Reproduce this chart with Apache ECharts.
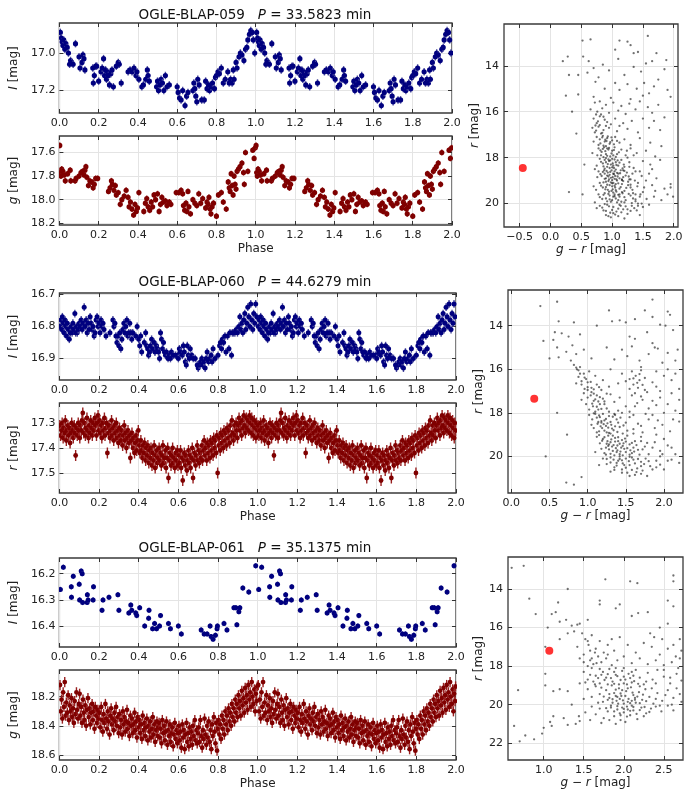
<!DOCTYPE html>
<html>
<head>
<meta charset="utf-8">
<script src="https://cdn.jsdelivr.net/npm/echarts@6/dist/echarts.min.js"></script>
<style>html,body{margin:0;padding:0;background:#fff}#main{width:693px;height:800px}</style>
</head>
<body>
<div id="main"></div>
<script>
// ---- star names / periods ----
var stars = ['OGLE-BLAP-059', 'OGLE-BLAP-060', 'OGLE-BLAP-061'];
var periods = ['33.5823', '44.6279', '35.1375'];

// ---- light curves, one cycle [phase, mag] (plotted twice, phase 0-2) ----
var lc059I = [[.005,16.89],[.010,16.92],[.014,16.94],[.018,16.96],[.022,16.93],[.028,16.98],[.033,16.95],[.040,16.97],[.046,17.00],[.052,17.06],[.057,17.04],[.063,17.05],[.070,17.06],[.082,16.95],[.100,17.02],[.105,17.08],[.115,17.05],[.120,17.01],[.125,17.03],[.130,17.09],[.170,17.08],[.173,17.16],[.178,17.12],[.185,17.07],[.190,17.07],[.200,17.15],[.212,17.10],[.218,17.08],[.225,17.03],[.230,17.12],[.235,17.09],[.240,17.14],[.245,17.10],[.250,17.12],[.255,17.17],[.262,17.11],[.268,17.09],[.275,17.18],[.290,17.07],[.300,17.05],[.305,17.06],[.315,17.16],[.350,17.10],[.360,17.09],[.370,17.10],[.380,17.08],[.390,17.12],[.395,17.10],[.405,17.14],[.420,17.18],[.428,17.17],[.440,17.14],[.448,17.09],[.452,17.12],[.458,17.15],[.495,17.18],[.500,17.15],[.505,17.20],[.512,17.17],[.518,17.14],[.525,17.16],[.532,17.20],[.540,17.12],[.548,17.18],[.560,17.17],[.600,17.18],[.605,17.21],[.612,17.24],[.620,17.25],[.628,17.20],[.640,17.28],[.648,17.23],[.655,17.21],[.680,17.20],[.685,17.16],[.690,17.19],[.695,17.23],[.700,17.26],[.705,17.14],[.712,17.17],[.725,17.25],[.738,17.25],[.745,17.15],[.752,17.19],[.760,17.17],[.765,17.20],[.772,17.18],[.780,17.16],[.790,17.19],[.795,17.13],[.800,17.12],[.808,17.10],[.815,17.11],[.825,17.08],[.835,17.16],[.845,17.14],[.858,17.10],[.865,17.16],[.872,17.14],[.880,17.16],[.886,17.09],[.890,17.14],[.900,17.05],[.905,17.08],[.915,17.02],[.922,17.00],[.930,17.01],[.940,17.04],[.948,16.98],[.955,16.97],[.960,16.93],[.968,16.90],[.975,16.88],[.982,16.89],[.988,16.93],[.995,17.00]];
var lc059g = [[.002,17.54],[.005,17.77],[.008,17.80],[.012,17.74],[.018,17.76],[.025,17.79],[.030,17.84],[.042,17.78],[.055,17.75],[.058,17.84],[.080,17.84],[.085,17.82],[.100,17.80],[.110,17.77],[.118,17.76],[.125,17.79],[.130,17.75],[.135,17.72],[.140,17.81],[.148,17.88],[.155,17.84],[.165,17.85],[.172,17.90],[.178,17.87],[.185,17.82],[.195,17.82],[.250,17.93],[.258,17.90],[.265,17.84],[.270,17.87],[.278,17.92],[.285,17.88],[.290,17.96],[.300,17.94],[.310,18.04],[.318,18.00],[.330,17.97],[.340,17.92],[.350,17.98],[.355,18.06],[.362,18.02],[.370,18.08],[.378,18.13],[.385,18.04],[.392,18.10],[.398,18.07],[.405,17.94],[.430,18.10],[.438,18.03],[.445,17.99],[.452,18.06],[.460,18.09],[.468,18.02],[.475,18.06],[.482,17.96],[.490,18.00],[.500,17.95],[.508,18.10],[.515,18.04],[.522,17.98],[.530,18.02],[.540,18.01],[.548,18.05],[.560,18.02],[.568,18.04],[.595,17.94],[.608,17.94],[.620,17.92],[.628,17.95],[.632,18.05],[.638,18.09],[.645,18.03],[.650,18.10],[.655,17.93],[.660,18.06],[.668,18.12],[.680,18.00],[.690,18.03],[.700,18.05],[.710,17.95],[.720,18.03],[.730,17.99],[.745,18.07],[.752,18.02],[.758,18.04],[.762,17.98],[.768,18.08],[.772,18.12],[.778,18.06],[.785,18.03],[.800,18.14],[.810,17.96],[.825,17.94],[.835,18.02],[.850,18.08],[.860,17.85],[.865,17.90],[.870,17.93],[.875,17.78],[.880,17.88],[.885,17.96],[.890,17.80],[.895,17.87],[.900,17.91],[.905,17.76],[.912,17.74],[.920,17.72],[.930,17.69],[.938,17.77],[.942,17.87],[.948,17.60],[.960,17.76],[.985,17.58],[.992,17.65],[.998,17.56]];
var lc060I = [[.003,16.80],[.008,16.78],[.012,16.81],[.015,16.77],[.020,16.79],[.024,16.82],[.028,16.78],[.032,16.80],[.036,16.83],[.040,16.79],[.045,16.81],[.050,16.84],[.055,16.82],[.060,16.80],[.064,16.82],[.068,16.79],[.072,16.81],[.078,16.76],[.082,16.82],[.086,16.80],[.090,16.82],[.095,16.81],[.100,16.79],[.105,16.80],[.110,16.78],[.115,16.81],[.120,16.79],[.125,16.74],[.130,16.80],[.135,16.78],[.140,16.82],[.145,16.79],[.150,16.81],[.155,16.77],[.160,16.79],[.165,16.81],[.170,16.80],[.175,16.83],[.180,16.82],[.185,16.78],[.190,16.77],[.195,16.80],[.200,16.79],[.205,16.82],[.210,16.78],[.215,16.80],[.220,16.79],[.225,16.81],[.235,16.83],[.255,16.82],[.270,16.78],[.275,16.80],[.280,16.79],[.285,16.83],[.290,16.85],[.295,16.83],[.300,16.86],[.305,16.82],[.310,16.87],[.315,16.84],[.320,16.81],[.325,16.79],[.330,16.82],[.335,16.80],[.340,16.78],[.345,16.83],[.350,16.82],[.355,16.79],[.360,16.82],[.365,16.84],[.370,16.82],[.385,16.83],[.392,16.80],[.400,16.84],[.405,16.86],[.410,16.83],[.415,16.88],[.428,16.85],[.435,16.82],[.440,16.86],[.445,16.87],[.450,16.89],[.455,16.88],[.460,16.86],[.465,16.84],[.470,16.87],[.478,16.85],[.482,16.88],[.490,16.86],[.495,16.87],[.500,16.88],[.505,16.90],[.510,16.82],[.515,16.84],[.520,16.87],[.525,16.85],[.530,16.88],[.535,16.89],[.540,16.88],[.548,16.90],[.555,16.89],[.560,16.90],[.565,16.88],[.575,16.89],[.585,16.89],[.595,16.89],[.600,16.90],[.605,16.87],[.610,16.88],[.620,16.89],[.625,16.86],[.630,16.88],[.635,16.91],[.640,16.92],[.645,16.86],[.650,16.89],[.655,16.90],[.660,16.87],[.668,16.89],[.675,16.90],[.685,16.90],[.695,16.92],[.700,16.93],[.705,16.92],[.712,16.91],[.718,16.90],[.722,16.92],[.728,16.91],[.735,16.93],[.740,16.90],[.745,16.88],[.752,16.91],[.758,16.90],[.765,16.89],[.770,16.91],[.775,16.87],[.785,16.90],[.800,16.89],[.808,16.86],[.812,16.85],[.818,16.87],[.822,16.84],[.828,16.85],[.835,16.83],[.840,16.88],[.848,16.83],[.855,16.87],[.860,16.82],[.868,16.89],[.872,16.82],[.878,16.82],[.885,16.82],[.892,16.81],[.898,16.82],[.905,16.80],[.910,16.77],[.915,16.81],[.920,16.79],[.925,16.82],[.930,16.78],[.935,16.76],[.940,16.81],[.945,16.79],[.950,16.74],[.955,16.77],[.960,16.80],[.965,16.73],[.970,16.78],[.975,16.81],[.980,16.76],[.985,16.79],[.990,16.73],[.995,16.77]];
var lc060r = [[.002,17.31],[.006,17.35],[.011,17.33],[.014,17.30],[.019,17.36],[.022,17.32],[.027,17.34],[.030,17.29],[.035,17.37],[.038,17.33],[.043,17.31],[.046,17.35],[.051,17.32],[.054,17.38],[.059,17.34],[.062,17.30],[.067,17.33],[.070,17.36],[.075,17.31],[.078,17.34],[.082,17.43],[.087,17.32],[.090,17.35],[.095,17.30],[.098,17.33],
[.103,17.36],[.106,17.31],[.111,17.33],[.114,17.29],[.118,17.26],[.123,17.34],[.126,17.30],[.131,17.35],[.134,17.32],[.139,17.28],[.142,17.33],[.147,17.36],[.150,17.31],[.155,17.34],[.158,17.29],[.163,17.32],[.166,17.35],[.171,17.30],[.174,17.33],[.179,17.28],[.182,17.31],[.187,17.35],[.190,17.30],[.195,17.27],[.198,17.33],
[.203,17.29],[.206,17.34],[.211,17.31],[.214,17.36],[.219,17.30],[.222,17.33],[.227,17.28],[.230,17.35],[.235,17.32],[.238,17.30],[.242,17.42],[.247,17.34],[.250,17.31],[.255,17.36],[.258,17.33],[.263,17.29],[.266,17.35],[.271,17.32],[.274,17.37],[.279,17.31],[.282,17.34],[.287,17.30],[.290,17.36],[.295,17.33],[.298,17.38],
[.303,17.32],[.306,17.35],[.311,17.37],[.314,17.33],[.319,17.39],[.322,17.35],[.327,17.31],[.330,17.37],[.335,17.34],[.338,17.40],[.343,17.36],[.346,17.33],[.351,17.38],[.354,17.35],[.358,17.44],[.363,17.37],[.366,17.34],[.371,17.40],[.374,17.36],[.379,17.42],[.382,17.38],[.387,17.35],[.390,17.41],[.395,17.37],[.398,17.33],
[.403,17.39],[.406,17.42],[.411,17.37],[.414,17.41],[.419,17.44],[.422,17.39],[.427,17.42],[.430,17.38],[.435,17.45],[.438,17.40],[.443,17.43],[.446,17.39],[.451,17.46],[.454,17.41],[.459,17.44],[.462,17.40],[.467,17.47],[.470,17.42],[.475,17.45],[.478,17.39],[.483,17.48],[.486,17.43],[.491,17.41],[.494,17.46],[.498,17.44],
[.503,17.40],[.506,17.45],[.511,17.42],[.514,17.47],[.519,17.43],[.522,17.39],[.527,17.46],[.530,17.44],[.535,17.41],[.538,17.48],[.543,17.44],[.546,17.40],[.550,17.52],[.555,17.45],[.558,17.42],[.563,17.47],[.566,17.43],[.571,17.40],[.574,17.46],[.579,17.44],[.582,17.48],[.587,17.42],[.590,17.45],[.595,17.41],[.598,17.47],
[.603,17.43],[.606,17.46],[.611,17.41],[.614,17.48],[.619,17.44],[.622,17.53],[.627,17.45],[.630,17.42],[.635,17.47],[.638,17.43],[.643,17.49],[.646,17.45],[.651,17.41],[.654,17.46],[.659,17.43],[.662,17.48],[.667,17.44],[.670,17.40],[.674,17.52],[.679,17.45],[.682,17.42],[.687,17.47],[.690,17.43],[.695,17.39],[.698,17.45],
[.703,17.41],[.706,17.46],[.711,17.42],[.714,17.44],[.719,17.39],[.722,17.45],[.727,17.41],[.730,17.37],[.735,17.43],[.738,17.40],[.743,17.45],[.746,17.38],[.751,17.42],[.754,17.39],[.759,17.44],[.762,17.37],[.767,17.41],[.770,17.38],[.775,17.43],[.778,17.36],[.783,17.40],[.786,17.37],[.791,17.42],[.794,17.35],[.798,17.50],
[.803,17.39],[.806,17.36],[.811,17.41],[.814,17.34],[.819,17.38],[.822,17.35],[.827,17.40],[.830,17.33],[.835,17.37],[.838,17.34],[.843,17.39],[.846,17.32],[.851,17.36],[.854,17.33],[.859,17.38],[.862,17.31],[.867,17.35],[.870,17.29],[.875,17.34],[.878,17.37],[.883,17.31],[.886,17.35],[.891,17.30],[.894,17.33],[.898,17.36],
[.903,17.31],[.906,17.28],[.911,17.33],[.914,17.30],[.919,17.35],[.922,17.29],[.927,17.32],[.930,17.27],[.935,17.31],[.938,17.34],[.943,17.28],[.946,17.32],[.951,17.29],[.954,17.33],[.959,17.27],[.962,17.30],[.967,17.34],[.970,17.28],[.975,17.31],[.978,17.35],[.983,17.29],[.986,17.32],[.991,17.36],[.994,17.30],[.998,17.33]];
var lc061I = [[.005,16.26],[.020,16.175],[.060,16.25],[.061,16.29],[.070,16.21],[.100,16.24],[.102,16.30],[.110,16.19],[.115,16.20],[.117,16.31],[.140,16.31],[.141,16.28],[.145,16.30],[.170,16.30],[.172,16.25],[.215,16.34],[.220,16.30],[.250,16.29],[.295,16.28],[.300,16.34],[.350,16.35],[.360,16.32],[.365,16.34],[.385,16.35],[.390,16.36],[.405,16.33],[.430,16.40],[.450,16.37],[.452,16.34],[.470,16.41],[.480,16.39],[.490,16.41],[.505,16.40],[.510,16.36],[.550,16.39],[.560,16.41],[.600,16.40],[.615,16.43],[.715,16.415],[.730,16.43],[.745,16.43],[.760,16.40],[.765,16.44],[.775,16.45],[.787,16.435],[.795,16.41],[.797,16.40],[.830,16.39],[.845,16.415],[.880,16.33],[.890,16.33],[.895,16.395],[.905,16.345],[.910,16.33],[.925,16.255],[.955,16.27],[.990,16.17]];
var lc061g = [[.003,18.12],[.007,18.30],[.011,18.22],[.015,18.35],[.019,18.17],[.023,18.27],[.027,18.10],[.031,18.33],[.035,18.24],[.040,18.31],[.044,18.19],[.048,18.36],[.052,18.26],[.057,18.30],[.061,18.21],[.065,18.34],[.069,18.28],[.073,18.38],[.077,18.23],[.081,18.32],[.086,18.17],[.090,18.29],[.094,18.35],[.098,18.25],
[.102,18.18],[.106,18.33],[.110,18.27],[.114,18.38],[.119,18.22],[.123,18.31],[.127,18.36],[.131,18.26],[.135,18.40],[.139,18.29],[.144,18.21],[.148,18.34],[.152,18.28],[.156,18.39],[.160,18.31],[.165,18.25],[.169,18.36],[.173,18.30],[.177,18.42],[.181,18.27],[.186,18.33],[.190,18.38],[.194,18.29],[.198,18.35],
[.202,18.31],[.206,18.41],[.211,18.27],[.215,18.36],[.219,18.44],[.223,18.32],[.227,18.38],[.232,18.25],[.236,18.35],[.240,18.42],[.244,18.30],[.248,18.37],[.253,18.46],[.257,18.33],[.261,18.28],[.265,18.39],[.269,18.35],[.274,18.43],[.278,18.31],[.282,18.37],[.286,18.27],[.290,18.40],[.295,18.34],[.299,18.45],
[.303,18.32],[.307,18.41],[.311,18.36],[.316,18.46],[.320,18.30],[.324,18.39],[.328,18.34],[.332,18.44],[.337,18.37],[.341,18.29],[.345,18.42],[.349,18.38],[.353,18.47],[.358,18.33],[.362,18.40],[.366,18.35],[.370,18.45],[.374,18.39],[.379,18.31],[.383,18.43],[.387,18.37],[.391,18.48],[.395,18.34],[.399,18.41],
[.404,18.36],[.408,18.45],[.412,18.39],[.416,18.49],[.420,18.33],[.425,18.43],[.429,18.38],[.433,18.47],[.437,18.41],[.441,18.35],[.446,18.50],[.450,18.40],[.454,18.44],[.458,18.37],[.462,18.48],[.467,18.42],[.471,18.34],[.475,18.46],[.479,18.39],[.483,18.51],[.488,18.43],[.492,18.37],[.496,18.47],[.499,18.41],
[.503,18.38],[.507,18.48],[.511,18.42],[.515,18.52],[.519,18.36],[.524,18.45],[.528,18.40],[.532,18.50],[.536,18.44],[.540,18.37],[.545,18.53],[.549,18.43],[.553,18.47],[.557,18.39],[.561,18.51],[.566,18.45],[.570,18.41],[.574,18.54],[.578,18.46],[.582,18.38],[.587,18.49],[.591,18.43],[.595,18.52],[.599,18.45],
[.603,18.40],[.607,18.50],[.611,18.44],[.615,18.55],[.620,18.39],[.624,18.48],[.628,18.43],[.632,18.56],[.636,18.46],[.641,18.38],[.645,18.51],[.649,18.45],[.653,18.54],[.657,18.41],[.662,18.49],[.666,18.44],[.670,18.53],[.674,18.40],[.678,18.47],[.683,18.36],[.687,18.50],[.691,18.43],[.695,18.52],[.699,18.45],
[.703,18.41],[.707,18.51],[.711,18.36],[.716,18.47],[.720,18.55],[.724,18.43],[.728,18.49],[.732,18.35],[.737,18.46],[.741,18.53],[.745,18.40],[.749,18.48],[.753,18.37],[.758,18.51],[.762,18.43],[.766,18.56],[.770,18.39],[.774,18.47],[.779,18.34],[.783,18.44],[.787,18.52],[.791,18.38],[.795,18.57],[.799,18.42],
[.803,18.36],[.807,18.46],[.811,18.39],[.815,18.49],[.820,18.33],[.824,18.42],[.828,18.36],[.832,18.46],[.837,18.30],[.841,18.39],[.845,18.33],[.849,18.43],[.853,18.28],[.858,18.37],[.862,18.31],[.866,18.40],[.870,18.25],[.874,18.34],[.879,18.28],[.883,18.37],[.887,18.22],[.891,18.31],[.895,18.25],[.899,18.34],
[.903,18.19],[.907,18.28],[.911,18.23],[.915,18.33],[.920,18.16],[.924,18.26],[.928,18.21],[.932,18.31],[.937,18.14],[.941,18.24],[.945,18.19],[.949,18.29],[.953,18.12],[.958,18.22],[.962,18.17],[.966,18.27],[.970,18.10],[.974,18.20],[.979,18.25],[.983,18.15],[.987,18.30],[.991,18.18],[.995,18.23],[.998,18.13]];

// typical error bar half-length per light curve [mag]
var errs = {lc059I:0.02, lc059g:0.025, lc060I:0.012, lc060r:0.022, lc061I:0.01, lc061g:0.035};

// ---- colour-magnitude diagrams [g-r, r] ----
var cmd059 = [[0.52,12.9],[0.65,12.85],[1.12,12.9],[1.25,12.95],[1.58,12.7],[1.05,13.3],[1.3,13.1],[0.28,13.6],[0.53,13.6],[0.2,13.8],[0.62,13.8],[0.7,14.1],[0.85,13.95],[1.1,13.7],[1.35,13.45],[1.42,13.4],[1.55,13.9],[1.65,13.8],[1.72,13.45],[1.88,13.75],[0.3,14.4],[0.45,14.4],[0.6,14.3],[0.78,14.5],[0.95,14.2],[1.2,14.4],[1.35,14.05],[1.47,14.25],[1.85,14.15],[0.73,14.7],[1.05,14.75],[1.25,14.8],[1.52,14.75],[1.68,14.9],[1.75,14.6],[0.88,15.0],[1.12,15.05],[1.4,15.0],[1.6,15.2],[1.9,15.05],[0.25,15.3],[0.45,15.25],[0.7,15.35],[0.98,15.4],[1.3,15.45],[1.5,15.3],[1.95,15.35],
[0.72,15.6],[0.8,15.55],[0.9,15.7],[1.02,15.6],[1.15,15.75],[1.28,15.65],[1.45,15.55],[1.58,15.8],[1.75,15.7],[0.35,16.0],[0.65,15.9],[0.76,16.0],[0.84,15.85],[0.95,16.05],[1.1,15.95],[1.22,16.1],[1.38,15.9],[1.65,16.05],[1.85,16.25],[0.7,16.3],[0.8,16.2],[0.88,16.35],[0.75,16.5],[0.92,16.45],[1.05,16.3],[1.18,16.5],[1.32,16.4],[1.5,16.3],[1.68,16.4],[0.68,16.7],[0.78,16.65],[0.86,16.8],[0.95,16.7],[1.08,16.85],[1.25,16.75],[1.42,16.9],[1.6,16.7],[1.78,16.8],[0.82,16.95],[0.72,16.9],[0.42,16.95],
[0.75,17.1],[0.8,17.2],[0.85,17.05],[0.88,17.3],[0.92,17.15],[0.96,17.4],[1.0,17.25],[1.05,17.1],[1.12,17.35],[1.2,17.2],[1.3,17.45],[1.45,17.15],[1.62,17.35],[1.8,17.5],[0.78,17.45],[0.9,17.5],
[0.78,17.6],[0.83,17.75],[0.87,17.55],[0.9,17.85],[0.94,17.65],[0.97,17.95],[1.0,17.7],[1.04,17.55],[1.08,17.85],[1.15,17.65],[1.22,17.9],[1.3,17.6],[1.4,17.8],[1.55,17.7],[1.7,17.95],[0.82,17.9],[0.92,17.6],[1.02,17.9],[0.68,17.8],
[0.8,18.05],[0.85,18.25],[0.88,18.1],[0.92,18.4],[0.95,18.15],[0.98,18.3],[1.0,18.05],[1.03,18.45],[1.06,18.2],[1.1,18.35],[1.15,18.1],[1.2,18.4],[1.28,18.2],[1.35,18.45],[1.5,18.15],[1.62,18.3],[1.78,18.1],[0.75,18.35],[0.9,18.2],[0.96,18.45],[1.01,18.25],[0.55,18.3],
[0.78,18.6],[0.83,18.8],[0.87,18.55],[0.9,18.9],[0.93,18.65],[0.96,18.75],[0.99,18.55],[1.01,18.85],[1.04,18.6],[1.07,18.95],[1.1,18.7],[1.14,18.55],[1.18,18.85],[1.24,18.65],[1.3,18.95],[1.38,18.6],[1.48,18.8],[1.6,18.7],[1.72,18.9],[0.95,18.95],[1.02,18.7],[1.05,18.8],[0.88,18.7],[1.12,18.9],
[0.8,19.1],[0.85,19.3],[0.9,19.05],[0.93,19.4],[0.96,19.2],[0.99,19.45],[1.02,19.1],[1.05,19.3],[1.08,19.0],[1.12,19.35],[1.16,19.15],[1.2,19.45],[1.26,19.2],[1.33,19.4],[1.42,19.1],[1.52,19.3],[1.65,19.2],[1.85,19.35],[1.95,19.15],[0.7,19.25],[1.0,19.25],[1.06,19.15],[0.3,19.5],
[0.78,19.6],[0.84,19.8],[0.88,19.55],[0.92,19.9],[0.96,19.65],[1.0,19.85],[1.04,19.6],[1.08,19.95],[1.12,19.7],[1.17,19.55],[1.22,19.85],[1.3,19.65],[1.38,19.9],[1.46,19.6],[1.56,19.8],[1.68,19.7],[1.9,19.6],[0.72,19.95],[1.02,19.7],[1.1,19.85],[0.52,19.6],
[0.8,20.1],[0.86,20.3],[0.92,20.05],[0.97,20.4],[1.02,20.15],[1.07,20.35],[1.12,20.05],[1.18,20.25],[1.25,20.45],[1.32,20.1],[1.4,20.3],[1.5,20.15],[1.6,20.05],[0.75,20.2],[0.98,20.6],[1.1,20.55],[1.2,20.65],[0.9,20.5],[1.45,20.5],[1.99,19.7],[1.95,19.3],
[0.84,17.12],[0.89,17.22],[0.93,17.08],[0.97,17.33],[0.81,17.38],[0.86,17.48],[0.91,17.28],[0.99,17.12],[1.03,17.42],[1.08,17.27],
[0.81,17.68],[0.85,17.62],[0.89,17.72],[0.92,17.92],[0.95,17.58],[0.99,17.82],[1.03,17.67],[1.06,17.97],[1.11,17.77],[0.86,17.98],
[0.82,18.18],[0.86,18.38],[0.9,18.02],[0.93,18.28],[0.97,18.12],[1.0,18.42],[1.04,18.08],[1.07,18.32],[1.12,18.22],[1.17,18.47],[0.88,18.48],[0.94,18.08],[1.02,18.35],[1.09,18.12],
[0.81,18.72],[0.85,18.62],[0.88,18.92],[0.91,18.58],[0.94,18.82],[0.97,18.62],[1.0,18.98],[1.03,18.72],[1.06,18.52],[1.09,18.82],[1.13,18.68],[1.16,18.98],[1.2,18.58],[1.27,18.82],[0.92,18.78],[0.98,18.88],[1.04,18.92],[1.08,18.66],
[0.82,19.22],[0.86,19.08],[0.89,19.38],[0.92,19.18],[0.95,19.48],[0.98,19.08],[1.01,19.38],[1.04,19.22],[1.07,19.48],[1.1,19.12],[1.14,19.28],[1.18,19.02],[1.23,19.32],[1.3,19.18],[0.94,19.02],[1.0,19.12],[1.06,19.42],[0.9,19.28],
[0.8,19.72],[0.86,19.62],[0.9,19.78],[0.94,19.58],[0.98,19.92],[1.02,19.52],[1.06,19.78],[1.1,19.62],[1.15,19.92],[1.2,19.72],[1.27,19.58],[1.34,19.78],[0.96,19.82],[1.04,19.68],
[0.84,20.18],[0.9,20.32],[0.95,20.12],[1.0,20.28],[1.05,20.48],[1.1,20.22],[1.15,20.38],[1.22,20.12],[1.3,20.32],[0.88,20.02],[1.02,20.42],[0.94,20.55],
[0.74,16.82],[0.8,16.58],[0.84,16.92],[0.9,16.62],[0.77,16.42],[0.86,16.22],[0.82,16.12],[0.74,16.12],[0.98,16.55],[1.12,16.62],
[1.35,17.9],[1.45,18.6],[1.55,19.0],[1.38,19.6],[1.5,19.5],[1.25,18.0],[1.65,18.5],[1.42,20.0],[1.7,19.45],[1.8,19.85],
[1.18,18.55],[1.22,18.78],[1.26,19.05],[1.3,19.3],[1.34,19.55],[1.38,19.82],[1.42,20.1],[1.16,19.5],[1.2,19.95],[1.25,20.25],[1.28,18.4],[1.33,18.7],[1.37,19.0],[1.41,19.25],[1.45,19.7],[1.48,20.0],[1.14,20.1],[1.19,18.3],[1.24,17.7],[1.28,18.95],[1.12,19.6],[1.16,18.95],[1.32,19.98],[1.36,20.2],[0.76,18.85],[0.74,19.4],[0.72,18.5],[0.76,17.9],[0.7,17.3],[0.73,16.6]];
var cmd060 = [[0.38,13.1],[0.6,12.9],[1.85,12.8],[1.75,13.3],[2.08,13.5],[1.28,13.3],[0.62,13.8],[0.82,13.85],[1.32,13.8],[1.42,13.75],[1.5,13.85],[1.62,13.7],[1.85,13.6],[1.95,13.95],[2.02,14.0],[2.05,13.35],[1.12,14.0],[0.57,14.3],[0.66,14.35],[0.42,14.7],[0.55,14.65],[0.75,14.5],[0.9,14.4],[1.55,14.5],[1.62,14.6],[1.78,14.3],[2.12,14.2],[0.6,15.0],[0.72,15.2],[0.8,14.9],[0.95,15.1],[1.25,15.0],[1.45,15.1],[1.58,14.95],[1.88,15.0],[1.92,15.05],[2.05,15.25],[2.18,15.1],[0.5,15.5],[0.62,15.45],[0.78,15.6],[0.85,15.3],[1.05,15.5],[1.35,15.55],[1.52,15.4],[1.68,15.6],[1.98,15.7],[2.15,15.6],[1.85,14.8],
[0.82,15.8],[0.86,16.0],[0.9,15.9],[0.95,16.2],[0.88,16.35],[0.98,16.45],[1.02,16.1],[1.1,16.3],[1.2,16.5],[1.3,16.0],[1.45,16.2],[1.58,16.1],[1.63,16.3],[1.7,16.05],[1.68,16.5],[1.75,16.4],[1.85,16.6],[2.0,16.3],[2.1,16.5],[2.2,16.9],[0.92,16.7],[0.96,16.9],[1.0,16.6],[1.05,16.85],[1.12,16.7],[1.18,16.95],[1.28,16.8],[1.4,16.65],[1.55,16.9],[1.6,16.7],[1.66,16.85],[1.75,16.95],[1.9,16.8],[0.85,16.65],
[0.95,17.1],[1.0,17.3],[1.05,17.05],[1.08,17.45],[1.12,17.2],[1.16,17.6],[1.2,17.35],[1.25,17.8],[1.3,17.15],[1.35,17.5],[1.42,17.3],[1.5,17.7],[1.58,17.2],[1.65,17.55],[1.72,17.4],[1.8,17.8],[1.95,17.3],[2.05,17.6],[2.15,17.9],[0.98,17.6],[1.02,17.85],[1.07,17.7],[1.1,17.95],[1.14,17.85],[1.22,17.6],[1.28,17.95],[1.4,17.9],[1.55,17.95],[1.62,17.1],[1.9,17.65],[0.92,17.4],
[1.02,18.1],[1.06,18.3],[1.1,18.05],[1.13,18.5],[1.16,18.2],[1.19,18.7],[1.22,18.35],[1.25,18.9],[1.28,18.15],[1.31,18.55],[1.34,18.8],[1.38,18.3],[1.42,18.65],[1.46,18.95],[1.5,18.45],[1.55,18.2],[1.6,18.75],[1.66,18.5],[1.72,18.9],[1.8,18.3],[1.88,18.7],[1.98,18.55],[2.08,18.85],[2.2,18.4],[1.08,18.7],[1.12,18.9],[1.18,18.45],[1.24,18.6],[1.3,18.95],[1.36,18.1],[1.15,18.85],[1.2,18.05],[1.4,18.45],[0.6,18.0],[1.05,18.55],
[1.12,19.1],[1.16,19.4],[1.2,19.2],[1.24,19.6],[1.27,19.05],[1.3,19.35],[1.33,19.75],[1.36,19.15],[1.39,19.5],[1.42,19.9],[1.45,19.25],[1.48,19.65],[1.52,19.05],[1.55,19.45],[1.58,19.85],[1.62,19.3],[1.66,19.7],[1.7,19.1],[1.75,19.55],[1.8,19.9],[1.88,19.35],[1.95,19.75],[2.05,19.5],[2.15,19.9],[1.22,19.85],[1.28,19.45],[1.35,19.95],[1.4,19.3],[1.44,19.6],[1.5,19.8],[1.18,19.65],[1.26,19.3],[1.32,19.55],[1.38,19.8],[1.47,19.4],[1.6,19.6],[0.73,19.0],[1.1,19.8],
[1.2,20.1],[1.25,20.35],[1.3,20.05],[1.35,20.5],[1.4,20.2],[1.45,20.6],[1.5,20.1],[1.55,20.4],[1.6,20.15],[1.65,20.55],[1.7,20.25],[1.76,20.1],[1.82,20.45],[1.9,20.2],[2.0,20.6],[2.1,20.15],[2.2,20.3],[1.42,20.0],[1.52,20.75],[1.62,20.85],[1.3,20.7],[1.15,20.4],[1.38,20.3],[1.48,20.4],[1.58,20.05],[1.72,20.65],[0.45,20.0],[0.92,20.95],[0.72,21.2],[0.82,21.3],[1.78,20.9],
[1.0,16.95],[1.04,17.2],[1.08,17.12],[1.1,17.38],[1.14,17.48],[1.06,17.58],[1.12,17.72],[1.18,17.82],[1.16,17.28],[1.22,17.48],
[1.08,18.02],[1.12,18.22],[1.15,18.12],[1.18,18.38],[1.21,18.52],[1.24,18.28],[1.27,18.68],[1.3,18.42],[1.33,18.18],[1.36,18.62],[1.39,18.88],[1.43,18.22],[1.47,18.58],[1.52,18.82],[1.17,18.62],[1.22,18.82],[1.26,18.48],[1.32,18.72],[1.14,18.42],[1.28,18.92],
[1.15,19.02],[1.19,19.28],[1.22,19.12],[1.25,19.42],[1.28,19.68],[1.31,19.22],[1.34,19.48],[1.37,19.62],[1.4,19.12],[1.43,19.78],[1.46,19.52],[1.49,19.18],[1.52,19.62],[1.55,19.92],[1.58,19.38],[1.61,19.78],[1.64,19.48],[1.68,19.92],[1.72,19.68],[1.78,19.38],[1.24,19.92],[1.3,19.88],[1.36,19.32],[1.42,19.42],[1.33,19.05],[1.46,19.95],[1.27,19.52],[1.39,19.72],[1.5,19.32],[1.56,19.72],
[1.25,20.12],[1.3,20.28],[1.34,20.15],[1.38,20.42],[1.42,20.12],[1.46,20.32],[1.5,20.52],[1.54,20.22],[1.58,20.62],[1.62,20.32],[1.66,20.12],[1.7,20.45],[1.74,20.35],[1.8,20.22],[1.85,20.6],[1.95,20.38],[1.45,20.18],[1.55,20.02],[1.35,20.62],[1.64,20.72],
[0.9,16.2],[0.92,16.55],[0.96,16.38],[1.0,16.82],[0.88,16.05],[0.85,15.92],[1.04,16.58],[1.08,16.92],[1.15,16.82],[1.25,17.12],
[1.68,16.22],[1.65,16.62],[1.72,16.72],[1.6,16.42],[1.78,17.05],[1.7,17.25],[1.85,17.45],[1.55,16.45],
[1.35,18.05],[1.45,18.0],[1.6,18.1],[1.7,18.6],[1.9,19.0],[2.0,19.2],[2.1,19.6],[1.95,20.0],
[1.9,16.1],[2.05,16.0],[2.15,16.2],[1.95,17.0],[2.1,17.1],[2.2,17.4],[1.85,18.1],[2.0,18.0],[2.12,18.3],[1.7,15.9],[1.8,15.3],[1.5,16.55],[1.62,17.7],[1.76,18.05],[1.92,18.35],[1.6,18.95],[1.7,19.3],[1.85,19.6],[1.98,19.9],[2.05,20.2],[1.9,20.5],[1.7,20.8],[1.55,20.9],[1.45,20.75]];
var cmd061 = [[0.6,12.9],[0.75,12.8],[0.82,14.5],[0.9,15.3],[1.1,15.3],[1.18,14.7],[1.3,14.0],[1.45,15.8],[1.55,15.6],[1.7,14.6],[1.7,14.8],[1.77,13.5],[1.95,14.8],[2.08,13.6],[2.17,13.7],[2.62,13.3],[2.62,13.6],[2.55,14.6],[2.62,14.9],[2.1,15.4],[2.18,15.25],[2.3,15.2],[1.9,15.0],[1.42,15.85],[1.35,15.9],[1.2,15.7],[1.15,15.2],[1.28,15.6],[1.05,16.0],[1.02,17.0],[0.68,19.25],[0.63,21.1],[0.77,21.6],[0.7,21.9],[0.98,21.5],[0.88,21.8],[1.02,18.4],[1.02,19.0],[1.12,19.3],[1.2,19.2],[1.3,19.3],[1.35,20.0],[1.25,20.7],[1.08,20.9],[1.1,21.1],[1.2,16.6],[1.3,16.3],[1.38,16.2],[1.0,21.2],[1.12,20.6],[1.4,21.0],[1.45,20.85],[1.3,21.05],[2.55,15.8],[2.45,16.0],[2.7,16.6],[2.33,16.3],
[1.48,16.3],[1.52,16.6],[1.56,16.9],[1.6,16.4],[1.65,17.1],[1.7,16.7],[1.75,17.3],[1.8,16.9],[1.88,17.2],[1.95,16.5],[2.05,16.9],[2.15,17.3],[2.25,16.8],[2.35,17.0],[2.45,17.4],[2.55,17.1],[2.65,17.5],[2.72,17.2],[1.42,17.0],[1.5,17.4],[1.58,17.7],[1.62,17.9],[1.68,17.5],[1.72,17.8],[1.78,17.6],[1.85,17.95],[1.92,17.7],[2.0,17.5],[2.1,17.85],[2.2,17.6],[2.3,17.9],[2.4,17.7],[2.5,17.95],[2.6,17.8],[2.7,17.6],[1.45,17.6],[1.55,18.0],[1.64,17.3],[2.48,16.6],[2.62,16.9],[2.38,16.5],[1.85,16.6],
[1.5,18.3],[1.55,18.7],[1.6,18.1],[1.65,18.5],[1.7,18.9],[1.74,18.3],[1.78,18.6],[1.82,18.15],[1.86,18.8],[1.9,18.45],[1.94,18.95],[1.98,18.25],[2.02,18.7],[2.06,18.4],[2.1,18.85],[2.15,18.2],[2.2,18.6],[2.25,18.95],[2.3,18.35],[2.36,18.7],[2.42,18.2],[2.5,18.55],[2.58,18.9],[2.66,18.4],[2.72,18.75],[1.45,18.9],[1.62,18.8],[1.8,18.95],[1.88,18.3],[2.0,18.9],[2.12,18.5],[2.28,18.8],[1.72,18.45],
[1.55,19.2],[1.6,19.6],[1.65,19.05],[1.7,19.45],[1.74,19.85],[1.78,19.25],[1.82,19.65],[1.85,19.0],[1.88,19.4],[1.91,19.8],[1.94,19.15],[1.97,19.55],[2.0,19.95],[2.03,19.3],[2.06,19.7],[2.09,19.1],[2.12,19.5],[2.15,19.9],[2.19,19.35],[2.23,19.75],[2.27,19.2],[2.32,19.6],[2.37,19.95],[2.42,19.4],[2.48,19.8],[2.55,19.25],[2.62,19.65],[2.7,19.45],[1.68,19.9],[1.8,19.75],[1.92,19.6],[1.98,19.25],[2.05,19.85],[2.14,19.65],[2.2,19.05],[1.86,19.9],[1.95,19.7],[2.1,19.8],[1.5,19.7],[1.9,19.55],
[1.6,20.1],[1.65,20.5],[1.7,20.2],[1.75,20.7],[1.8,20.35],[1.84,20.05],[1.88,20.6],[1.92,20.25],[1.96,20.8],[2.0,20.4],[2.04,20.1],[2.08,20.55],[2.12,20.3],[2.17,20.75],[2.22,20.15],[2.28,20.45],[2.34,20.2],[2.4,20.1],[2.47,20.35],[2.55,20.05],[2.62,20.3],[1.52,20.4],[1.58,20.8],[1.72,20.95],[1.9,21.0],[2.02,20.9],[1.82,20.8],[1.98,20.15],[2.1,20.05],[2.25,20.6],[1.44,20.6],[1.95,20.45],[2.05,20.25],
[1.82,19.45],[1.86,19.72],[1.9,19.22],[1.93,19.95],[1.96,19.42],[1.99,19.78],[2.02,19.55],[2.05,19.15],[2.08,19.92],[2.11,19.38],[2.14,19.75],[2.17,19.58],[2.2,19.92],[2.24,19.48],[2.28,19.82],[1.84,20.15],[1.88,20.35],[1.92,20.08],[1.96,20.55],[2.0,20.22],[2.04,20.62],[2.08,20.32],[2.12,20.12],[2.16,20.48],[2.2,20.28],[2.26,20.12],[2.32,20.38],[1.78,20.18],[1.75,19.58],[1.72,19.12],
[1.76,18.72],[1.8,18.42],[1.84,18.62],[1.88,18.92],[1.92,18.52],[1.96,18.72],[2.0,18.55],[2.04,18.95],[2.08,18.62],[2.13,18.78],[1.68,18.62],[1.64,18.95],[1.58,18.45],[1.52,18.85],[2.18,18.92],
[2.35,19.15],[2.4,19.7],[2.45,20.05],[2.52,19.5],[2.6,20.0],[2.66,19.15],[2.72,19.85],[2.58,18.6],[2.68,18.1],[2.5,18.2],[2.4,18.9],
[1.6,17.6],[1.66,17.85],[1.58,17.2],[1.7,18.15],[1.5,17.8],[1.55,16.7],[1.8,17.4],[1.9,18.1],[2.0,18.1],[2.1,18.3]];
// the BLAP itself on each diagram [g-r, r]
var blap059 = [-0.45, 18.45];
var blap060 = [0.30, 17.35];
var blap061 = [1.07, 17.2];

// ---- tick labels ----
var ticks059I = [17.0, 17.2];
var ticks059g = [17.6, 17.8, 18.0, 18.2];
var ticks060I = [16.7, 16.8, 16.9];
var ticks060r = [17.3, 17.4, 17.5];
var ticks061I = [16.2, 16.3, 16.4];
var ticks061g = [18.2, 18.4, 18.6];
var ticksPhase = [0, 0.2, 0.4, 0.6, 0.8, 1.0, 1.2, 1.4, 1.6, 1.8, 2.0];
var ticksCmdR = [14, 16, 18, 20];
var ticksCmdR3 = [14, 16, 18, 20, 22];
var ticksCol059 = [-0.5, 0, 0.5, 1.0, 1.5, 2.0];
var ticksCol060 = [0, 0.5, 1.0, 1.5, 2.0];
var ticksCol061 = [1.0, 1.5, 2.0, 2.5];

var F = 'DejaVu Sans';
var INK = '#222';
var NAVY = '#00007f', NAVY_BAR = '#4a4a9c';
var MAROON = '#7f0000', MAROON_BAR = '#982020';

var chartDom = document.getElementById('main');
var myChart = echarts.init(chartDom);

var grids = [], xAxes = [], yAxes = [], series = [];
var rich = {i: {fontStyle: 'italic', fontFamily: F, fontSize: 12, color: INK}};

function fmt1(v) { return (v < 0 ? '\u2212' : '') + Math.abs(v).toFixed(1); }
function fmt0(v) { return String(Math.round(v)); }

function makeAxis(gi, pos, a, mirror) {
    var ax = {
        type: 'value', gridIndex: gi, position: pos,
        min: a.min, max: a.max, inverse: !!a.inverse,
        axisLine: {show: false, onZero: false},
        axisTick: {show: true, inside: true, length: 4, customValues: a.ticks, lineStyle: {color: '#333', width: 1}},
        axisLabel: {show: !mirror, customValues: a.ticks, formatter: a.fmt, fontFamily: F, fontSize: 11, color: INK, margin: a.margin},
        splitLine: {show: !mirror, lineStyle: {color: '#e4e4e4', width: 1}}
    };
    if (!mirror && a.name) {
        ax.name = a.name;
        ax.nameLocation = 'middle';
        ax.nameGap = a.nameGap;
        ax.nameTextStyle = {fontFamily: F, fontSize: 12, color: INK, rich: rich};
    }
    return ax;
}

function addPanel(box, xa, ya) {
    var gi = grids.length;
    grids.push({left: box[0], top: box[1], width: box[2], height: box[3], show: true,
        borderColor: '#3a3a3a', borderWidth: 1.3, backgroundColor: 'transparent'});
    xAxes.push(makeAxis(gi, 'bottom', xa, false));
    xAxes.push(makeAxis(gi, 'top', xa, true));
    yAxes.push(makeAxis(gi, 'left', ya, false));
    yAxes.push(makeAxis(gi, 'right', ya, true));
    return gi * 2;
}

function lcSeries(ai, pts, err, color, barColor, r) {
    var data = [];
    pts.forEach(function (p) { data.push([p[0], p[1], err]); });
    pts.forEach(function (p) { data.push([p[0] + 1, p[1], err]); });
    return {
        type: 'custom', xAxisIndex: ai, yAxisIndex: ai, data: data, clip: true,
        encode: {x: 0, y: 1}, silent: true, animation: false,
        renderItem: function (params, api) {
            var c = api.coord([api.value(0), api.value(1)]);
            var lo = api.coord([api.value(0), api.value(1) - api.value(2)]);
            var hi = api.coord([api.value(0), api.value(1) + api.value(2)]);
            return {type: 'group', children: [
                {type: 'line', shape: {x1: c[0], y1: lo[1], x2: c[0], y2: hi[1]}, style: {stroke: barColor, lineWidth: 1.4}},
                {type: 'circle', shape: {cx: c[0], cy: c[1], r: r}, style: {fill: color}}
            ]};
        }
    };
}

function cmdSeries(ai, pts, blap) {
    return [
        {type: 'scatter', xAxisIndex: ai, yAxisIndex: ai, data: pts, symbolSize: 2.3,
            itemStyle: {color: 'rgba(0,0,0,0.7)'}, silent: true, animation: false},
        {type: 'scatter', xAxisIndex: ai, yAxisIndex: ai, data: [blap], symbolSize: 8,
            itemStyle: {color: '#ff0000'}, silent: true, animation: false, z: 5}
    ];
}

var phaseAx = function (named) {
    return {min: 0, max: 2, ticks: ticksPhase, fmt: fmt1, margin: 5, name: named ? 'Phase' : null, nameGap: 18};
};
var magAx = function (name, lo, hi, t) {
    return {min: lo, max: hi, inverse: true, ticks: t, fmt: fmt1, margin: 4, name: name, nameGap: 33};
};
var colAx = function (lo, hi, t) {
    return {min: lo, max: hi, ticks: t, fmt: fmt1, margin: 5, name: '{i|g} \u2212 {i|r} [mag]', nameGap: 17};
};
var rAx = function (lo, hi, t) {
    return {min: lo, max: hi, inverse: true, ticks: t, fmt: fmt0, margin: 5, name: '{i|r} [mag]', nameGap: 20};
};

var a;
// row 1: OGLE-BLAP-059
a = addPanel([53, 23, 399, 90], phaseAx(false), magAx('{i|I} [mag]', 16.84, 17.32, ticks059I));
series.push(lcSeries(a, lc059I, errs.lc059I, NAVY, NAVY_BAR, 2.6));
a = addPanel([53, 136, 399, 89], phaseAx(true), magAx('{i|g} [mag]', 17.46, 18.215, ticks059g));
series.push(lcSeries(a, lc059g, errs.lc059g, MAROON, MAROON_BAR, 2.6));
a = addPanel([504, 24, 174, 203], colAx(-0.755, 2.07, ticksCol059), rAx(12.18, 21.02, ticksCmdR));
series = series.concat(cmdSeries(a, cmd059, blap059));
// row 2: OGLE-BLAP-060
a = addPanel([53, 293, 403, 87], phaseAx(false), magAx('{i|I} [mag]', 16.696, 16.967, ticks060I));
series.push(lcSeries(a, lc060I, errs.lc060I, NAVY, NAVY_BAR, 2.5));
a = addPanel([53, 403, 403, 90], phaseAx(true), magAx('{i|r} [mag]', 17.22, 17.58, ticks060r));
series.push(lcSeries(a, lc060r, errs.lc060r, MAROON, MAROON_BAR, 2.4));
a = addPanel([508, 290, 175, 203], colAx(-0.044, 2.25, ticksCol060), rAx(12.36, 21.68, ticksCmdR));
series = series.concat(cmdSeries(a, cmd060, blap060));
// row 3: OGLE-BLAP-061
a = addPanel([53, 558, 403, 89], phaseAx(false), magAx('{i|I} [mag]', 16.14, 16.48, ticks061I));
series.push(lcSeries(a, lc061I, errs.lc061I, NAVY, NAVY_BAR, 2.5));
a = addPanel([53, 670, 403, 90], phaseAx(true), magAx('{i|g} [mag]', 18.017, 18.634, ticks061g));
series.push(lcSeries(a, lc061g, errs.lc061g, MAROON, MAROON_BAR, 2.4));
a = addPanel([508, 557, 175, 203], colAx(0.554, 2.74, ticksCol061), rAx(12.34, 22.87, ticksCmdR3));
series = series.concat(cmdSeries(a, cmd061, blap061));

var titleY = [15, 282.5, 548];
var titles = stars.map(function (s, i) {
    return {
        type: 'text', x: 255, y: titleY[i], silent: true,
        style: {
            text: s + '   {i|P} = ' + periods[i] + ' min',
            fontFamily: F, fontSize: 13.5, fill: '#111', align: 'center', verticalAlign: 'middle',
            rich: {i: {fontStyle: 'italic', fontFamily: F, fontSize: 13.5, fill: '#111'}}
        }
    };
});

var option = {
    animation: false,
    backgroundColor: '#ffffff',
    grid: grids,
    xAxis: xAxes,
    yAxis: yAxes,
    series: series,
    graphic: titles
};

option && myChart.setOption(option);
window.addEventListener('resize', function () {
    myChart.resize();
});
</script>
</body>
</html>
